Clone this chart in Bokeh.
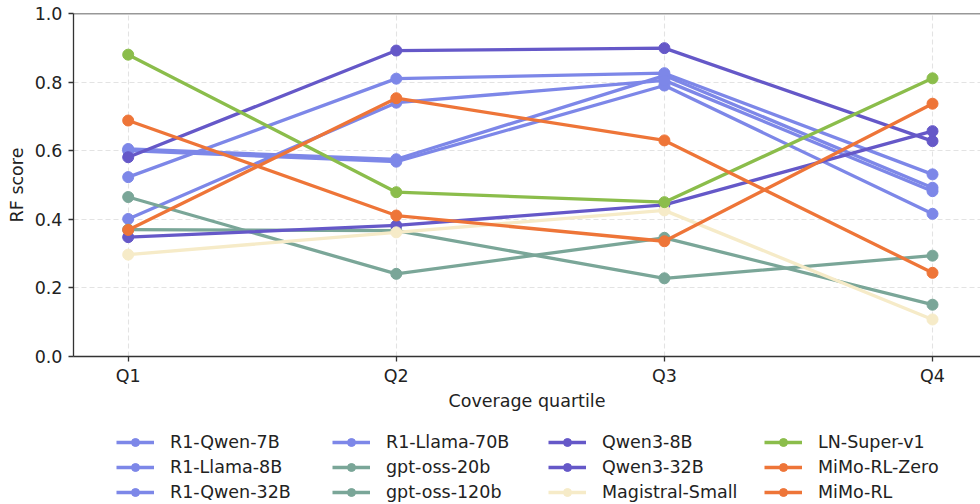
from bokeh.plotting import figure
from bokeh.layouts import column
from bokeh.models import (Range1d, FixedTicker, NumeralTickFormatter, Legend, LegendItem, Span)
from bokeh.embed import file_html
from bokeh.resources import INLINE

quartiles = ["Q1", "Q2", "Q3", "Q4"]
x_pos = [0, 1, 2, 3]

names = ["R1-Qwen-7B", "R1-Llama-8B", "R1-Qwen-32B", "R1-Llama-70B",
         "gpt-oss-20b", "gpt-oss-120b", "Qwen3-8B", "Qwen3-32B",
         "Magistral-Small", "LN-Super-v1", "MiMo-RL-Zero", "MiMo-RL"]

r1_qwen_7b = [0.605, 0.575, 0.819, 0.492]
r1_llama_8b = [0.600, 0.568, 0.790, 0.416]
r1_qwen_32b = [0.523, 0.810, 0.826, 0.531]
r1_llama_70b = [0.401, 0.740, 0.805, 0.482]
gpt_oss_20b = [0.465, 0.241, 0.346, 0.151]
gpt_oss_120b = [0.370, 0.367, 0.228, 0.294]
qwen3_8b = [0.581, 0.892, 0.899, 0.628]
qwen3_32b = [0.348, 0.382, 0.442, 0.657]
magistral_small = [0.297, 0.362, 0.426, 0.108]
ln_super_v1 = [0.880, 0.479, 0.450, 0.811]
mimo_rl_zero = [0.688, 0.411, 0.336, 0.737]
mimo_rl = [0.369, 0.753, 0.630, 0.244]

series = [r1_qwen_7b, r1_llama_8b, r1_qwen_32b, r1_llama_70b, gpt_oss_20b, gpt_oss_120b,
          qwen3_8b, qwen3_32b, magistral_small, ln_super_v1, mimo_rl_zero, mimo_rl]

BLUE = "#7d87e8"
PURPLE = "#6558c8"
TEAL = "#7aa698"
CREAM = "#f6ebc8"
GREEN = "#8bbd4b"
ORANGE = "#ee7538"
colors = [BLUE, BLUE, BLUE, BLUE, TEAL, TEAL, PURPLE, PURPLE, CREAM, GREEN, ORANGE, ORANGE]

FONT = "DejaVu Sans"
FS = "17.5px"
DARK = "#333333"
LW = 3.3
MS = 11

p = figure(width=980, height=416, output_backend="svg", toolbar_location=None,
           x_range=Range1d(-0.204, 3.179), y_range=Range1d(0.0, 1.0),
           min_border_left=73, min_border_right=0, min_border_top=13, min_border_bottom=60)
p.outline_line_color = None
p.background_fill_color = "white"
p.border_fill_color = "white"

for vals, c in zip(series, colors):
    p.line(x_pos, vals, line_color=c, line_width=LW)
    p.scatter(x_pos, vals, size=MS, fill_color=c, line_color=c)

# axes
p.xaxis.ticker = FixedTicker(ticks=x_pos)
p.xaxis.major_label_overrides = {i: q for i, q in zip(x_pos, quartiles)}
p.yaxis.ticker = FixedTicker(ticks=[0.0, 0.2, 0.4, 0.6, 0.8, 1.0])
p.yaxis.formatter = NumeralTickFormatter(format="0.0")
p.xaxis.axis_label = "Coverage quartile"
p.yaxis.axis_label = "RF score"
for ax in (p.xaxis, p.yaxis):
    ax.axis_line_color = DARK
    ax.axis_line_width = 1.3
    ax.major_tick_line_color = DARK
    ax.major_tick_line_width = 1.3
    ax.major_tick_out = 5
    ax.major_tick_in = 0
    ax.minor_tick_line_color = None
    ax.major_label_text_font = FONT
    ax.major_label_text_font_size = FS
    ax.major_label_text_color = "#222222"
    ax.axis_label_text_font = FONT
    ax.axis_label_text_font_size = FS
    ax.axis_label_text_font_style = "normal"
    ax.axis_label_text_color = "#222222"
p.xaxis.major_label_standoff = 4
p.yaxis.major_label_standoff = 6
p.xaxis.axis_label_standoff = 2
p.yaxis.axis_label_standoff = 5

# grid
p.xgrid.ticker = FixedTicker(ticks=x_pos)
p.ygrid.ticker = FixedTicker(ticks=[0.2, 0.4, 0.6, 0.8])
for g in (p.xgrid, p.ygrid):
    g.grid_line_color = "#e3e3e3"
    g.grid_line_dash = "5 3"
    g.grid_line_width = 1.1

p.add_layout(Span(location=1.0, dimension="width", line_color=DARK, line_width=1.5))

# legend strip below the chart (proxy glyphs sit outside its visible range)
lg = figure(width=980, height=88, output_backend="svg", toolbar_location=None,
            x_range=Range1d(0, 1), y_range=Range1d(0, 1),
            min_border_left=0, min_border_right=0, min_border_top=0, min_border_bottom=0)
lg.axis.visible = False
lg.grid.visible = False
lg.outline_line_color = None
lg.border_fill_color = "white"

items = []
for name, c in zip(names, colors):
    lr = lg.line([-10, -9], [-10, -10], line_color=c, line_width=LW)
    cr = lg.scatter([-10], [-10], size=MS, fill_color=c, line_color=c)
    items.append(LegendItem(label=name, renderers=[lr, cr]))

# legend is laid out row by row: reorder so columns read top-to-bottom
nrows, ncols = 3, 4
ordered = [items[c * nrows + r] for r in range(nrows) for c in range(ncols)]

legend = Legend(items=ordered, orientation="horizontal", ncols=ncols, location=(43, 2),
                label_text_font=FONT, label_text_font_size=FS, label_text_color="#222222",
                glyph_width=38, glyph_height=20, label_height=20, label_width=157,
                label_standoff=16, spacing=5, padding=0, margin=0,
                border_line_color=None, background_fill_alpha=0)
lg.add_layout(legend, "center")

layout = column(p, lg, spacing=0)
open("out.html", "w").write(file_html(layout, INLINE))
